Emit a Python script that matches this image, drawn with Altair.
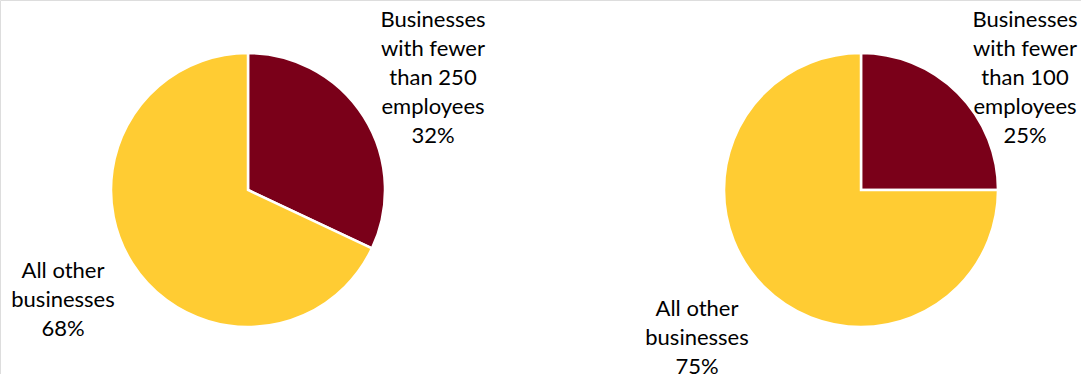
import altair as alt
import pandas as pd

# Data
charts = ["fewer than 250", "fewer than 100"]
segments = ["small", "other"]
small_labels = ["Businesses\nwith fewer\nthan 250\nemployees", "Businesses\nwith fewer\nthan 100\nemployees"]
other_label = "All other\nbusinesses"
small_values = [32, 25]
other_values = [68, 75]

rows = []
for i, c in enumerate(charts):
    rows.append({"chart": c, "segment": "small", "order": 0, "value": small_values[i],
                 "label": f"{small_labels[i]}\n{small_values[i]}%"})
    rows.append({"chart": c, "segment": "other", "order": 1, "value": other_values[i],
                 "label": f"{other_label}\n{other_values[i]}%"})
df = pd.DataFrame(rows)

MAROON = "#7A0019"
GOLD = "#FFCC33"
FONT = "Lato"

base = alt.Chart(df)

color = alt.Color("segment:N", scale=alt.Scale(domain=segments, range=[MAROON, GOLD]), legend=None)

def pie(chart_name, cx, cy):
    return base.transform_filter(alt.datum.chart == chart_name).mark_arc(
        outerRadius=137, stroke="white", strokeWidth=2.5
    ).encode(
        theta=alt.Theta("value:Q", stack=True),
        color=color,
        order=alt.Order("order:Q"),
        x=alt.value(cx),
        y=alt.value(cy),
    )

def label(chart_name, seg, lx, ly):
    return base.transform_filter(
        (alt.datum.chart == chart_name) & (alt.datum.segment == seg)
    ).mark_text(
        font=FONT, fontSize=22, lineHeight=29, align="center", baseline="middle",
        lineBreak="\n", color="#000000"
    ).encode(
        text="label:N",
        x=alt.value(lx),
        y=alt.value(ly),
    )

chart = alt.layer(
    pie(charts[0], 248, 190),
    pie(charts[1], 861, 190),
    label(charts[0], "small", 433, 20),
    label(charts[0], "other", 63, 271),
    label(charts[1], "small", 1025, 20),
    label(charts[1], "other", 697, 309),
).properties(
    width=1081, height=374, padding=0, autosize=alt.AutoSizeParams(type="none")
).configure_view(stroke=None).configure(background="white")

chart.save("out.html", embed_options={"renderer": "svg", "actions": False})
